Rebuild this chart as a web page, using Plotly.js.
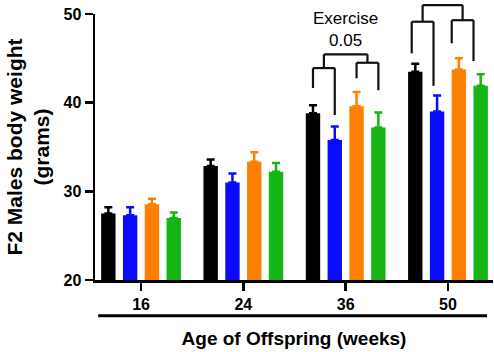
<!DOCTYPE html>
<html>
<head>
<meta charset="utf-8">
<script src="https://cdn.plot.ly/plotly-3.0.1.min.js"></script>
<style>html,body{margin:0;padding:0;background:#fff;}#chart{width:494px;height:352px;}</style>
</head>
<body>
<div id="chart"></div>
<script>
// Categories (age of offspring, weeks)
const ages = ["16", "24", "36", "50"];

// Mean body weight (grams) per group
const blackVals  = [27.5, 32.85, 38.8, 43.5];
const blueVals   = [27.3, 31.0, 35.8, 39.0];
const orangeVals = [28.55, 33.35, 39.6, 43.75];
const greenVals  = [27.0, 32.2, 37.2, 41.9];

// Error (upper) per group
const blackErr  = [0.7, 0.75, 0.9, 0.9];
const blueErr   = [0.9, 1.0, 1.5, 1.8];
const orangeErr = [0.6, 1.05, 1.6, 1.25];
const greenErr  = [0.6, 1.0, 1.7, 1.3];

const yTicks = [20, 30, 40, 50];

// Significance brackets: category index, leg bottoms (4 bars), pair heights, top height, leg shift
const bracketCats    = [2, 3];
const bracketLegs    = [[41.65, 38.6, 42.75, 41.4], [45.57, 41.9, 46.7, 44.7]];
const bracketPairs   = [[43.9, 44.5], [49.13, 49.3]];
const bracketTops    = [45.45, 51.0];
const bracketShift   = [[0, 0], [-0.035, -0.07]];

const FONT = "Liberation Sans, Arial, sans-serif";
const colors = ["#000000", "#0a0aff", "#ff8000", "#13b613"];
const vals = [blackVals, blueVals, orangeVals, greenVals];
const errs = [blackErr, blueErr, orangeErr, greenErr];

const bargap = 0.148;
const traces = vals.map((v, i) => ({
  type: "bar",
  x: ages,
  y: v,
  marker: {color: colors[i], line: {width: 0}},
  error_y: {
    type: "data", symmetric: false, array: errs[i],
    arrayminus: errs[i].map(() => 0),
    color: colors[i], thickness: 2.5, width: 4
  },
  hoverinfo: "none"
}));

const yMin = yTicks[0], yMax = yTicks[yTicks.length - 1];
const toPaper = v => (v - yMin) / (yMax - yMin);
const slot = (1 - bargap) / 4;
const shapes = [];
const line = (x0, y0, x1, y1) => shapes.push({
  type: "line", xref: "x", yref: "paper",
  x0: x0, x1: x1, y0: toPaper(y0), y1: toPaper(y1),
  line: {color: "#111", width: 2.2}
});
bracketCats.forEach((c, g) => {
  const legX = [0, 1, 2, 3].map(i => c + (i - 1.5) * slot + bracketShift[g][i < 2 ? 0 : 1]);
  const mids = [];
  [0, 1].forEach(p => {
    const a = legX[2 * p], b = legX[2 * p + 1], h = bracketPairs[g][p];
    line(a, bracketLegs[g][2 * p], a, h);
    line(b, bracketLegs[g][2 * p + 1], b, h);
    line(a, h, b, h);
    const m = (a + b) / 2;
    mids.push(m);
    line(m, h, m, bracketTops[g]);
  });
  line(mids[0], bracketTops[g], mids[1], bracketTops[g]);
});
// underline below the x tick labels
shapes.push({type: "line", xref: "paper", yref: "paper", x0: 0.008, x1: 0.985,
  y0: -0.134, y1: -0.134, line: {color: "#000", width: 3}});

const layout = {
  width: 494, height: 352,
  margin: {l: 95, r: 1, t: 14, b: 72},
  paper_bgcolor: "#fff", plot_bgcolor: "#fff",
  showlegend: false,
  barmode: "group", bargap: bargap, bargroupgap: 0.34,
  font: {family: FONT, color: "#000"},
  xaxis: {
    type: "category", range: [-0.45, 3.44],
    showline: true, linewidth: 2.5, linecolor: "#000",
    ticks: "outside", ticklen: 8, tickwidth: 2.5, tickcolor: "#000",
    showgrid: false, zeroline: false,
    tickfont: {family: FONT, size: 16, weight: "bold"},
    title: {text: "Age of Offspring (weeks)", font: {family: FONT, size: 19, weight: "bold"}, standoff: 20}
  },
  yaxis: {
    range: [yMin, yMax], tickvals: yTicks,
    showline: true, linewidth: 2.5, linecolor: "#000",
    ticks: "outside", ticklen: 8, tickwidth: 2.5, tickcolor: "#000",
    showgrid: false, zeroline: false,
    tickfont: {family: FONT, size: 16, weight: "bold"},
    title: {text: "F2 Males body weight<br>(grams)", font: {family: FONT, size: 21, weight: "bold"}, standoff: 8}
  },
  shapes: shapes,
  annotations: [{
    xref: "x", yref: "y", x: 2, y: 48.2, text: "Exercise<br>0.05",
    showarrow: false, font: {family: FONT, size: 17, color: "#000"},
    xanchor: "center", yanchor: "middle", align: "center"
  }]
};

Plotly.newPlot("chart", traces, layout, {displayModeBar: false, staticPlot: true});
</script>
</body>
</html>
